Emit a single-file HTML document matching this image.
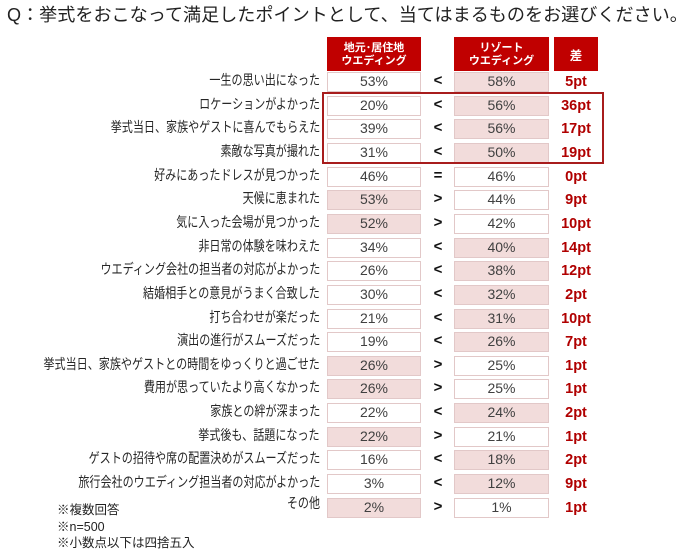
<!DOCTYPE html>
<html><head><meta charset="utf-8">
<style>
*{margin:0;padding:0;box-sizing:border-box}
body{width:700px;height:550px;background:#fff;position:relative;overflow:hidden;font-family:"Liberation Sans","Noto Sans CJK JP",sans-serif;color:#333}
.title{position:absolute;left:7px;top:3px;font-size:18.1px;line-height:24px;color:#222;white-space:nowrap;font-family:"Liberation Sans","Noto Sans CJK JP",sans-serif}
.hd{position:absolute;top:37px;height:34px;background:#c00000;color:#fff;font-weight:bold;font-size:11px;line-height:13px;text-align:center;display:flex;align-items:center;justify-content:center;font-family:"Noto Sans CJK JP",sans-serif}
.r{position:absolute;left:0;width:700px;height:22px}
.lb{position:absolute;right:380px;top:0;line-height:16px;font-size:14px;white-space:nowrap;color:#262626;transform:scaleX(0.79);transform-origin:right center;font-family:"Liberation Sans","Noto Sans CJK JP",sans-serif}
.c{position:absolute;top:0;height:20px;border:1px solid #e2c8c8;background:#fff;font-size:14px;line-height:17px;text-align:center;color:#404040}
.a{left:327px;width:94px}
.b{left:454px;width:95px}
.p{background:#f2dcdb}
.s{position:absolute;left:429px;width:18px;top:0;line-height:17px;text-align:center;font-weight:bold;font-size:15px;color:#111}
.d{position:absolute;left:552px;width:48px;top:0;line-height:20px;text-align:center;font-weight:bold;font-size:14.5px;color:#b00000}
.box{position:absolute;left:322px;top:92px;width:282px;height:72px;border:2px solid #a81c1c}
.fn{position:absolute;left:57px;font-size:12.5px;line-height:16px;color:#222;white-space:nowrap;font-family:"Liberation Sans","Noto Sans CJK JP",sans-serif}
</style></head><body>
<div class="title">Q：挙式をおこなって満足したポイントとして、当てはまるものをお選びください。</div>

<div class="hd" style="left:327px;width:94px">地元･居住地<br>ウエディング</div>
<div class="hd" style="left:454px;width:95px">リゾート<br>ウエディング</div>
<div class="hd" style="left:554px;width:44px;font-size:12.5px">差</div>

<div class="r" style="top:72px"><div class="lb">一生の思い出になった</div><div class="c a">53%</div><div class="s">&lt;</div><div class="c b p">58%</div><div class="d">5pt</div></div>
<div class="r" style="top:95.65px"><div class="lb">ロケーションがよかった</div><div class="c a">20%</div><div class="s">&lt;</div><div class="c b p">56%</div><div class="d">36pt</div></div>
<div class="r" style="top:119.3px"><div class="lb">挙式当日、家族やゲストに喜んでもらえた</div><div class="c a">39%</div><div class="s">&lt;</div><div class="c b p">56%</div><div class="d">17pt</div></div>
<div class="r" style="top:142.95px"><div class="lb">素敵な写真が撮れた</div><div class="c a">31%</div><div class="s">&lt;</div><div class="c b p">50%</div><div class="d">19pt</div></div>
<div class="r" style="top:166.6px"><div class="lb">好みにあったドレスが見つかった</div><div class="c a">46%</div><div class="s">=</div><div class="c b">46%</div><div class="d">0pt</div></div>
<div class="r" style="top:190.25px"><div class="lb">天候に恵まれた</div><div class="c a p">53%</div><div class="s">&gt;</div><div class="c b">44%</div><div class="d">9pt</div></div>
<div class="r" style="top:213.9px"><div class="lb">気に入った会場が見つかった</div><div class="c a p">52%</div><div class="s">&gt;</div><div class="c b">42%</div><div class="d">10pt</div></div>
<div class="r" style="top:237.55px"><div class="lb">非日常の体験を味わえた</div><div class="c a">34%</div><div class="s">&lt;</div><div class="c b p">40%</div><div class="d">14pt</div></div>
<div class="r" style="top:261.2px"><div class="lb">ウエディング会社の担当者の対応がよかった</div><div class="c a">26%</div><div class="s">&lt;</div><div class="c b p">38%</div><div class="d">12pt</div></div>
<div class="r" style="top:284.85px"><div class="lb">結婚相手との意見がうまく合致した</div><div class="c a">30%</div><div class="s">&lt;</div><div class="c b p">32%</div><div class="d">2pt</div></div>
<div class="r" style="top:308.5px"><div class="lb">打ち合わせが楽だった</div><div class="c a">21%</div><div class="s">&lt;</div><div class="c b p">31%</div><div class="d">10pt</div></div>
<div class="r" style="top:332.15px"><div class="lb">演出の進行がスムーズだった</div><div class="c a">19%</div><div class="s">&lt;</div><div class="c b p">26%</div><div class="d">7pt</div></div>
<div class="r" style="top:355.8px"><div class="lb">挙式当日、家族やゲストとの時間をゆっくりと過ごせた</div><div class="c a p">26%</div><div class="s">&gt;</div><div class="c b">25%</div><div class="d">1pt</div></div>
<div class="r" style="top:379.45px"><div class="lb">費用が思っていたより高くなかった</div><div class="c a p">26%</div><div class="s">&gt;</div><div class="c b">25%</div><div class="d">1pt</div></div>
<div class="r" style="top:403.1px"><div class="lb">家族との絆が深まった</div><div class="c a">22%</div><div class="s">&lt;</div><div class="c b p">24%</div><div class="d">2pt</div></div>
<div class="r" style="top:426.75px"><div class="lb">挙式後も、話題になった</div><div class="c a p">22%</div><div class="s">&gt;</div><div class="c b">21%</div><div class="d">1pt</div></div>
<div class="r" style="top:450.4px"><div class="lb">ゲストの招待や席の配置決めがスムーズだった</div><div class="c a">16%</div><div class="s">&lt;</div><div class="c b p">18%</div><div class="d">2pt</div></div>
<div class="r" style="top:474.05px"><div class="lb">旅行会社のウエディング担当者の対応がよかった</div><div class="c a">3%</div><div class="s">&lt;</div><div class="c b p">12%</div><div class="d">9pt</div></div>
<div class="r" style="top:497.7px"><div class="lb" style="top:-3px">その他</div><div class="c a p">2%</div><div class="s">&gt;</div><div class="c b">1%</div><div class="d">1pt</div></div>

<div class="box"></div>

<div class="fn" style="top:502px">※複数回答</div>
<div class="fn" style="top:519px">※n=500</div>
<div class="fn" style="top:535px">※小数点以下は四捨五入</div>
</body></html>
